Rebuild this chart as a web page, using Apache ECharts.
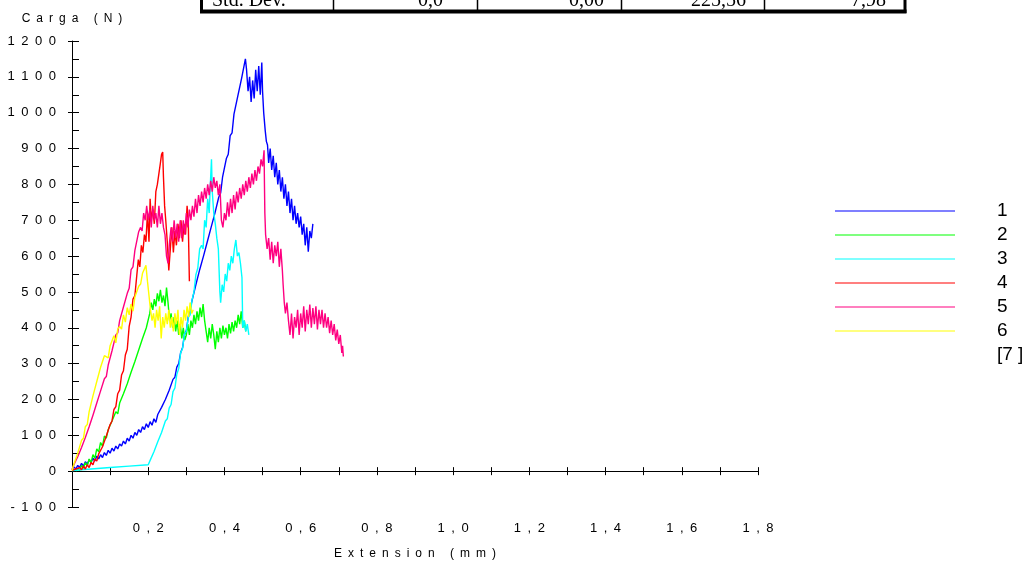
<!DOCTYPE html>
<html>
<head>
<meta charset="utf-8">
<script src="https://cdn.jsdelivr.net/npm/echarts@6/dist/echarts.min.js"></script>
<style>
html,body{margin:0;padding:0;background:#fff;}
#chart{width:1034px;height:565px;}
</style>
</head>
<body>
<div id="chart"></div>
<script>
// ---- data (Extension mm, Carga N) ----
const spec1 = [[0,4],[0.005,12],[0.01,6],[0.015,16],[0.02,10],[0.025,22],[0.03,14],[0.035,26],[0.04,20],[0.045,32],[0.05,24],[0.055,36],[0.06,28],[0.065,42],[0.07,34],[0.075,46],[0.08,38],[0.085,52],[0.09,44],[0.095,58],[0.1,50],[0.105,64],[0.11,56],[0.115,70],[0.12,62],[0.125,76],[0.13,70],[0.135,84],[0.14,76],[0.145,92],[0.15,84],[0.155,100],[0.16,92],[0.165,108],[0.17,100],[0.175,116],[0.18,108],[0.185,124],[0.19,116],[0.195,132],[0.2,122],[0.205,138],[0.21,128],[0.215,146],[0.22,136],[0.225,158],[0.23,156],[0.235,178],[0.24,176],[0.245,200],[0.25,198],[0.255,226],[0.26,230],[0.265,256],[0.27,262],[0.275,290],[0.28,300],[0.285,330],[0.29,344],[0.295,380],[0.3,392],[0.305,430],[0.31,434],[0.315,476],[0.32,480],[0.325,520],[0.33,522],[0.335,562],[0.34,566],[0.345,600],[0.35,600],[0.355,640],[0.36,640],[0.365,680],[0.37,676],[0.375,720],[0.38,720],[0.385,764],[0.39,776],[0.395,820],[0.4,824],[0.405,872],[0.41,884],[0.415,936],[0.42,944],[0.425,996],[0.43,996],[0.435,1046],[0.44,1050],[0.445,1096],[0.45,1100],[0.455,1150],[0.458,1120],[0.462,1060],[0.466,1100],[0.47,1030],[0.474,1090],[0.478,1040],[0.482,1120],[0.486,1060],[0.49,1130],[0.494,1050],[0.498,1140],[0.5,1060],[0.503,1000],[0.507,950],[0.51,920],[0.513,910],[0.516,860],[0.52,900],[0.524,840],[0.528,880],[0.532,820],[0.536,860],[0.54,800],[0.544,840],[0.548,780],[0.552,820],[0.556,760],[0.56,800],[0.564,740],[0.568,780],[0.572,720],[0.576,760],[0.58,700],[0.584,740],[0.588,690],[0.592,720],[0.596,680],[0.6,710],[0.604,660],[0.608,690],[0.612,630],[0.616,680],[0.62,612],[0.624,670],[0.628,650],[0.632,690]];
const spec2 = [[0.01,0],[0.015,8],[0.02,2],[0.025,16],[0.03,8],[0.035,24],[0.04,14],[0.045,34],[0.05,24],[0.055,46],[0.06,36],[0.065,62],[0.07,54],[0.075,80],[0.08,70],[0.085,98],[0.09,92],[0.095,116],[0.1,112],[0.105,140],[0.11,136],[0.115,166],[0.12,160],[0.125,190],[0.13,186],[0.135,216],[0.14,212],[0.145,244],[0.15,244],[0.155,276],[0.16,272],[0.165,306],[0.17,304],[0.175,338],[0.18,336],[0.185,370],[0.19,366],[0.195,400],[0.2,400],[0.204,440],[0.208,470],[0.212,450],[0.216,480],[0.22,460],[0.224,496],[0.228,474],[0.232,506],[0.236,470],[0.24,490],[0.244,460],[0.248,512],[0.252,470],[0.256,420],[0.26,440],[0.264,400],[0.268,430],[0.272,390],[0.276,420],[0.28,380],[0.284,410],[0.288,370],[0.292,400],[0.296,366],[0.3,380],[0.304,410],[0.308,380],[0.312,420],[0.316,400],[0.32,436],[0.324,410],[0.328,446],[0.332,420],[0.336,456],[0.34,430],[0.344,466],[0.348,420],[0.352,390],[0.356,360],[0.36,400],[0.364,370],[0.368,410],[0.372,380],[0.376,340],[0.38,390],[0.384,360],[0.388,400],[0.392,370],[0.396,406],[0.4,380],[0.404,400],[0.408,370],[0.412,410],[0.416,384],[0.42,416],[0.424,390],[0.428,420],[0.432,400],[0.436,436],[0.44,410],[0.444,446],[0.448,400],[0.452,420],[0.456,390]];
const spec3 = [[0,2],[0.05,6],[0.1,10],[0.15,14],[0.2,18],[0.205,30],[0.21,34],[0.215,54],[0.22,56],[0.225,82],[0.23,84],[0.235,108],[0.24,112],[0.245,140],[0.25,146],[0.255,176],[0.26,186],[0.265,222],[0.27,232],[0.275,270],[0.28,286],[0.285,330],[0.29,342],[0.295,382],[0.3,390],[0.305,428],[0.31,436],[0.315,478],[0.32,500],[0.325,548],[0.33,566],[0.335,620],[0.34,630],[0.344,620],[0.348,700],[0.352,680],[0.356,760],[0.36,720],[0.363,800],[0.366,870],[0.368,780],[0.372,720],[0.376,690],[0.38,650],[0.384,620],[0.388,500],[0.39,470],[0.394,520],[0.398,500],[0.402,550],[0.406,530],[0.41,580],[0.414,560],[0.418,600],[0.422,580],[0.426,620],[0.43,645],[0.434,600],[0.438,610],[0.442,580],[0.446,540],[0.448,400],[0.452,420],[0.456,390],[0.46,410],[0.464,380]];
const spec4 = [[0,2],[0.01,6],[0.015,2],[0.02,10],[0.025,4],[0.03,14],[0.035,6],[0.04,18],[0.045,10],[0.05,24],[0.055,18],[0.06,34],[0.065,28],[0.07,48],[0.075,44],[0.08,68],[0.085,66],[0.09,98],[0.095,100],[0.1,130],[0.105,140],[0.11,172],[0.115,180],[0.12,216],[0.125,226],[0.13,268],[0.135,280],[0.14,324],[0.145,340],[0.15,404],[0.155,430],[0.16,480],[0.165,490],[0.17,546],[0.174,590],[0.178,570],[0.182,630],[0.186,610],[0.19,660],[0.194,640],[0.198,720],[0.202,640],[0.205,760],[0.208,700],[0.212,730],[0.216,690],[0.22,780],[0.224,800],[0.228,830],[0.232,860],[0.235,884],[0.238,890],[0.24,820],[0.243,740],[0.246,700],[0.25,640],[0.254,560],[0.258,620],[0.262,680],[0.266,610],[0.27,670],[0.274,630],[0.278,690],[0.282,650],[0.286,700],[0.29,640],[0.294,690],[0.298,660],[0.302,740],[0.305,700],[0.308,530]];
const spec5 = [[0,4],[0.005,18],[0.01,18],[0.015,40],[0.02,40],[0.025,66],[0.03,66],[0.035,94],[0.04,98],[0.045,124],[0.05,128],[0.055,156],[0.06,160],[0.065,190],[0.07,194],[0.075,224],[0.08,228],[0.085,258],[0.09,264],[0.095,296],[0.1,298],[0.105,336],[0.11,340],[0.115,380],[0.12,386],[0.125,420],[0.13,424],[0.135,458],[0.14,460],[0.145,496],[0.15,510],[0.155,562],[0.16,570],[0.165,616],[0.17,618],[0.175,668],[0.18,680],[0.184,670],[0.188,720],[0.192,700],[0.196,740],[0.2,700],[0.204,730],[0.208,680],[0.212,740],[0.216,700],[0.22,720],[0.224,680],[0.228,740],[0.232,690],[0.236,720],[0.24,680],[0.244,660],[0.248,600],[0.252,580],[0.256,640],[0.26,680],[0.264,640],[0.268,700],[0.272,650],[0.276,690],[0.28,640],[0.284,700],[0.288,650],[0.292,700],[0.296,660],[0.3,720],[0.304,680],[0.308,730],[0.312,700],[0.316,740],[0.32,710],[0.324,760],[0.328,720],[0.332,770],[0.336,740],[0.34,780],[0.344,750],[0.348,790],[0.352,760],[0.356,800],[0.36,770],[0.364,810],[0.368,780],[0.372,820],[0.376,790],[0.38,810],[0.384,770],[0.388,800],[0.392,700],[0.396,680],[0.4,720],[0.404,700],[0.408,750],[0.412,710],[0.416,760],[0.42,720],[0.424,770],[0.428,730],[0.432,780],[0.436,750],[0.44,790],[0.444,760],[0.448,800],[0.452,770],[0.456,810],[0.46,780],[0.464,820],[0.468,790],[0.472,830],[0.476,800],[0.48,840],[0.484,810],[0.488,850],[0.492,830],[0.496,870],[0.5,850],[0.504,895],[0.505,800],[0.506,720],[0.508,660],[0.512,620],[0.516,650],[0.52,590],[0.524,640],[0.528,580],[0.532,630],[0.536,600],[0.54,640],[0.544,570],[0.548,620],[0.552,560],[0.554,520],[0.557,470],[0.56,440],[0.564,470],[0.568,420],[0.572,380],[0.576,440],[0.58,370],[0.584,430],[0.588,400],[0.592,450],[0.596,380],[0.6,440],[0.604,400],[0.608,460],[0.612,390],[0.616,450],[0.62,410],[0.624,465],[0.628,400],[0.632,455],[0.636,410],[0.64,460],[0.644,395],[0.648,450],[0.652,410],[0.656,450],[0.66,400],[0.664,440],[0.668,400],[0.672,430],[0.676,385],[0.68,420],[0.684,380],[0.688,410],[0.692,365],[0.696,395],[0.7,355],[0.704,380],[0.708,330],[0.71,350],[0.712,320]];
const spec6 = [[0,2],[0.005,20],[0.01,22],[0.015,50],[0.02,54],[0.025,86],[0.03,92],[0.035,124],[0.04,130],[0.045,166],[0.05,170],[0.055,210],[0.06,212],[0.065,250],[0.07,252],[0.075,290],[0.08,290],[0.085,322],[0.09,324],[0.095,316],[0.1,350],[0.105,352],[0.11,378],[0.115,358],[0.12,396],[0.125,404],[0.13,396],[0.135,436],[0.14,416],[0.145,456],[0.15,436],[0.155,466],[0.16,446],[0.165,486],[0.17,490],[0.175,516],[0.18,522],[0.185,552],[0.19,552],[0.194,574],[0.198,530],[0.202,490],[0.206,450],[0.21,420],[0.214,440],[0.218,400],[0.222,450],[0.226,420],[0.23,460],[0.234,370],[0.238,430],[0.242,400],[0.246,440],[0.25,410],[0.254,450],[0.258,400],[0.262,430],[0.266,390],[0.27,440],[0.274,410],[0.278,450],[0.282,380],[0.286,430],[0.29,400],[0.294,450],[0.298,420],[0.302,460],[0.306,430],[0.31,470],[0.314,440],[0.318,450]];
const seriesNames = ['1','2','3','4','5','6','[7 ]'];
const seriesColors = ['#0000ff','#00ff00','#00ffff','#ff0000','#ff0080','#ffff00','rgba(0,0,0,0)'];
const tableRow = ['Std. Dev.','0,0','0,00','225,56','7,98'];
const yAxisTitle = 'Carga (N)';
const xAxisTitle = 'Extension (mm)';

// ---- chart ----
const EN = '\u2002';
const spaced = s => String(s).split('').join(EN);
const FONT = 'Liberation Sans, Arial, sans-serif';
const chart = echarts.init(document.getElementById('chart'));
const allData = [spec1, spec2, spec3, spec4, spec5, spec6, []];

const tableLines = [201, 333, 477, 621, 764, 906];
const tableTextX = [212, 443, 604, 746, 886];
const graphics = [];
graphics.push({type:'line', shape:{x1:201.5,y1:0,x2:201.5,y2:13}, style:{stroke:'#000',lineWidth:3}});
graphics.push({type:'line', shape:{x1:905,y1:0,x2:905,y2:13}, style:{stroke:'#000',lineWidth:3}});
graphics.push({type:'line', shape:{x1:200,y1:11.5,x2:906.5,y2:11.5}, style:{stroke:'#000',lineWidth:4}});
for (let i = 1; i < 5; i++) {
  graphics.push({type:'line', shape:{x1:tableLines[i]+0.5,y1:0,x2:tableLines[i]+0.5,y2:10}, style:{stroke:'#000',lineWidth:1.5}});
}
tableRow.forEach((t, i) => {
  graphics.push({type:'text', x: tableTextX[i], y: 1,
    style:{text:t, font:'20px "Liberation Serif", "Times New Roman", serif', fill:'#000',
      textAlign: i === 0 ? 'left' : 'right', textVerticalAlign:'middle'}});
});

const series = allData.map((d, i) => ({
  name: seriesNames[i], type:'line', data:d, xAxisIndex:0, yAxisIndex:0,
  showSymbol:false, symbol:'none', animation:false,
  color: seriesColors[i],
  lineStyle:{color:seriesColors[i], width:1.4},
  itemStyle:{color:seriesColors[i]}
}));

const axisLbl = {fontFamily:FONT, fontSize:13, color:'#000'};
chart.setOption({
  animation:false,
  backgroundColor:'#fff',
  grid:{left:72, right:276, top:41, bottom:55, containLabel:false},
  legend:{
    orient:'vertical', left:830, top:194, icon:'rect', itemWidth:120, itemHeight:1.2, itemGap:0,
    selectedMode:false,
    textStyle:{fontFamily:FONT, fontSize:19, color:'#000', lineHeight:24, padding:[0,0,0,37]},
    data: seriesNames
  },
  xAxis:[
    {type:'value', position:'bottom', min:0, max:1.8, interval:0.1,
     axisLine:{show:true, onZero:true, onZeroAxisIndex:0, lineStyle:{color:'#000', width:1}},
     axisTick:{show:true, inside:true, length:4, lineStyle:{color:'#000'}},
     axisLabel:{show:false}, splitLine:{show:false}},
    {type:'value', position:'bottom', min:0, max:1.8, interval:0.1,
     axisLine:{show:true, onZero:true, onZeroAxisIndex:0, lineStyle:{color:'#000', width:1}},
     axisTick:{show:true, inside:false, length:4, lineStyle:{color:'#000'}},
     axisLabel:{show:false}, splitLine:{show:false}},
    {type:'value', position:'bottom', min:0, max:1.8, interval:0.2,
     axisLine:{show:false, onZero:false}, axisTick:{show:false}, splitLine:{show:false},
     axisLabel:Object.assign({margin:15, formatter: v => (Math.abs(v) < 1e-9 ? '' : spaced(v.toFixed(1).replace('.', ',')))}, axisLbl),
     name: spaced(xAxisTitle), nameLocation:'middle', nameGap:41,
     nameTextStyle:{fontFamily:FONT, fontSize:12, color:'#000'}}
  ],
  yAxis:[
    {type:'value', position:'left', min:-100, max:1200, interval:100,
     axisLine:{show:true, onZero:false, lineStyle:{color:'#000', width:1}},
     axisTick:{show:true, inside:true, length:7, lineStyle:{color:'#000'}},
     minorTick:{show:true, splitNumber:2, length:7, lineStyle:{color:'#000'}},
     axisLabel:Object.assign({margin:16, formatter: v => spaced(Math.round(v))}, axisLbl),
     splitLine:{show:false},
     name: spaced(yAxisTitle), nameLocation:'end', nameGap:16,
     nameTextStyle:{fontFamily:FONT, fontSize:12, color:'#000', align:'center'}},
    {type:'value', position:'left', min:-100, max:1200, interval:100,
     axisLine:{show:false, onZero:false},
     axisTick:{show:true, inside:false, length:4, lineStyle:{color:'#000'}},
     axisLabel:{show:false}, splitLine:{show:false}}
  ],
  graphic: graphics,
  series: series
});
</script>
</body>
</html>
